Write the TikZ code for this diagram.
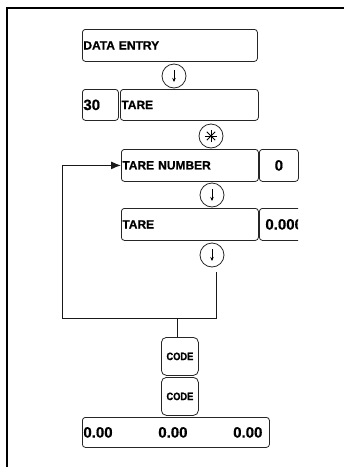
\documentclass[tikz,border=0pt]{standalone}
\usepackage{fontspec}
\setmainfont{Liberation Sans}[BoldFeatures={FakeBold=0.6}]
\newfontfamily\codefont[FakeStretch=0.87,FakeBold=1.2]{Liberation Sans Bold}
\usetikzlibrary{arrows.meta}
\begin{document}
\begin{tikzpicture}[x=1pt,y=-1pt,
  box/.style={draw=black!85,line width=0.8pt,rounded corners=3pt,anchor=north west,
    inner xsep=1pt,inner ysep=0pt,align=left,font=\bfseries\fontsize{12}{14}\selectfont},
  numbox/.style={box,font=\bfseries\fontsize{15}{17}\selectfont},
  codebox/.style={draw=black!85,line width=0.8pt,rounded corners=5pt,anchor=north west,
    inner sep=0pt,minimum width=37pt,minimum height=38pt,font=\codefont\fontsize{10.7}{12}\selectfont},
  circ/.style={draw=black!85,line width=0.8pt,circle,minimum size=24pt,inner sep=0pt},
  conn/.style={line width=1pt,black!90},
  frame/.style={line width=1.8pt}]
\useasboundingbox (0,0) rectangle (344,467);
% frame
\draw[frame] (7,467) -- (7,8) -- (344,8);
% boxes
\node[box,text width=173pt,minimum height=32pt] (de) at (82,29) {DATA ENTRY};
\node[circ] (c1) at (174,76) {};
\node[numbox,text width=34pt,minimum height=31pt] (n30) at (82,89) {30};
\node[box,text width=136pt,minimum height=31pt] (t1) at (120,89) {TARE};
\node[circ] (c2) at (211,136) {};
\node[box,text width=135pt,minimum height=32pt] (tn) at (121,149) {TARE NUMBER};
\node[numbox,minimum width=39pt,minimum height=32pt,inner xsep=0pt] (z) at (259,149) {0};
\node[circ] (c3) at (212,195) {};
\node[box,text width=135pt,minimum height=32pt] (t2) at (121,208) {TARE};
\begin{scope}
\clip (250,200) rectangle (298,245);
\node[numbox,text width=60pt,minimum height=32pt,inner xsep=6pt] (v) at (259,208) {0.000};
\end{scope}
\node[circ] (c4) at (212,255) {};
% arrows inside circles
\foreach \c in {c1,c3,c4}{
  \draw[line width=0.8pt,-{Stealth[length=4pt,width=3.5pt]}] ([yshift=6pt]\c.center) -- ([yshift=-6pt]\c.center);
}
\foreach \a in {0,45,90,135}{
  \draw[line width=0.8pt] ([shift={(\a:6)}]c2.center) -- ([shift={(\a+180:6)}]c2.center);
}
% code boxes
\node[codebox] (k1) at (161,337) {CODE};
\node[codebox] (k2) at (161,377) {CODE};
\node[numbox,minimum width=187pt,minimum height=30pt,inner xsep=0pt] (bot) at (82,417)
  {\makebox[185pt][l]{\makebox[179pt]{0.00\hfill0.00\hfill0.00}}};
% connectors
\coordinate (p1) at (216,272);
\coordinate (lc) at (62,318);
\coordinate (jn) at (177,318);
\draw[conn,-{Latex[length=10pt,width=8pt]}] (p1) |- (lc) |- (tn.west);
\draw[conn] (jn) -- (jn |- k1.north);
\end{tikzpicture}
\end{document}
